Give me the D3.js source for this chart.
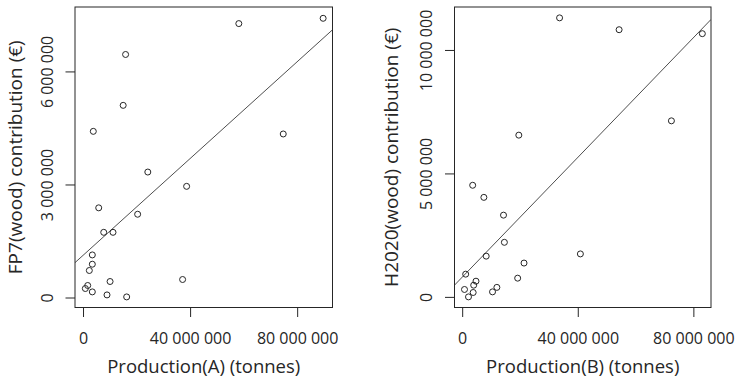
<!DOCTYPE html>
<html>
<head>
<meta charset="utf-8">
<script src="https://cdn.jsdelivr.net/npm/d3@7"></script>
<style>
  body { margin: 0; background: #fff; }
  svg { display: block; }
</style>
</head>
<body>
<script>
// Production (tonnes) vs EU wood contribution (EUR)
var prodA = [89.7e6, 58.2e6, 15.9e6, 15.0e6, 3.84e6, 74.8e6, 24.2e6, 38.7e6, 5.86e6, 20.4e6, 7.73e6,
             11.2e6, 3.47e6, 3.47e6, 2.35e6, 10.1e6, 37.2e6, 1.75e6, 0.86e6, 3.47e6, 8.96e6, 16.3e6];
var fp7 = [7.41e6, 7.27e6, 6.45e6, 5.10e6, 4.41e6, 4.34e6, 3.33e6, 2.95e6, 2.38e6, 2.21e6, 1.73e6,
           1.73e6, 1.13e6, 0.884e6, 0.717e6, 0.425e6, 0.478e6, 0.319e6, 0.239e6, 0.149e6, 0.069e6, 0.016e6];

var prodB = [33.7e6, 54.3e6, 83.1e6, 72.4e6, 19.6e6, 3.63e6, 7.5e6, 14.3e6, 14.6e6, 8.3e6, 40.9e6,
             21.4e6, 1.21e6, 19.2e6, 4.77e6, 3.98e6, 12.0e6, 0.8e6, 10.5e6, 3.8e6, 2.18e6];
var h2020 = [11.3e6, 10.82e6, 10.66e6, 7.13e6, 6.55e6, 4.52e6, 4.03e6, 3.31e6, 2.21e6, 1.65e6, 1.74e6,
             1.37e6, 0.92e6, 0.758e6, 0.636e6, 0.474e6, 0.385e6, 0.30e6, 0.203e6, 0.178e6, 0.0];

var xTicksA = [0, 40e6, 80e6];
var yTicksA = [0, 3e6, 6e6];
var xTicksB = [0, 40e6, 80e6];
var yTicksB = [0, 5e6, 10e6];

var xDomainA = [-3.0e6, 93.2e6];
var yDomainA = [-0.265e6, 7.71e6];
var xDomainB = [-2.66e6, 86.1e6];
var yDomainB = [-0.43e6, 11.74e6];

var width = 736;
var height = 379;
var plotTop = 7, plotBottom = 307.5;
var font = "'Open Sans', 'Noto Sans', sans-serif";
var ink = "#262626";

var fmt = d3.formatLocale({ decimal: ".", thousands: " ", grouping: [3], currency: ["", ""] }).format(",d");

var panels = [
  { xs: prodA, ys: fp7, xDomain: xDomainA, yDomain: yDomainA, xTicks: xTicksA, yTicks: yTicksA,
    left: 75, right: 332.5, titleOff: 53.5,
    xLabel: "Production(A) (tonnes)", yLabel: "FP7(wood) contribution (€)" },
  { xs: prodB, ys: h2020, xDomain: xDomainB, yDomain: yDomainB, xTicks: xTicksB, yTicks: yTicksB,
    left: 454.5, right: 711, titleOff: 57,
    xLabel: "Production(B) (tonnes)", yLabel: "H2020(wood) contribution (€)" }
];

var svg = d3.select("body")
  .append("svg")
  .attr("width", width)
  .attr("height", height);

panels.forEach(function(p) {
  var x = d3.scaleLinear().domain(p.xDomain).range([p.left, p.right]);
  var y = d3.scaleLinear().domain(p.yDomain).range([plotBottom, plotTop]);
  var g = svg.append("g");

  // least squares fit, like abline(lm(y ~ x))
  var mx = d3.mean(p.xs), my = d3.mean(p.ys);
  var sxy = d3.sum(p.xs, function(v, i) { return (v - mx) * (p.ys[i] - my); });
  var sxx = d3.sum(p.xs, function(v) { return (v - mx) * (v - mx); });
  var slope = sxy / sxx, icept = my - slope * mx;

  var clipId = "clip" + Math.round(p.left);
  g.append("clipPath").attr("id", clipId)
    .append("rect")
    .attr("x", p.left).attr("y", plotTop)
    .attr("width", p.right - p.left).attr("height", plotBottom - plotTop);

  g.append("line")
    .attr("clip-path", "url(#" + clipId + ")")
    .attr("x1", x(p.xDomain[0])).attr("y1", y(icept + slope * p.xDomain[0]))
    .attr("x2", x(p.xDomain[1])).attr("y2", y(icept + slope * p.xDomain[1]))
    .attr("stroke", "#3a3a3a")
    .attr("stroke-width", 0.9);

  g.selectAll("circle")
    .data(p.xs)
    .enter()
    .append("circle")
    .attr("cx", function(d) { return x(d); })
    .attr("cy", function(d, i) { return y(p.ys[i]); })
    .attr("r", 3)
    .attr("fill", "none")
    .attr("stroke", ink)
    .attr("stroke-width", 1);

  // box
  g.append("rect")
    .attr("x", p.left).attr("y", plotTop)
    .attr("width", p.right - p.left).attr("height", plotBottom - plotTop)
    .attr("fill", "none")
    .attr("stroke", ink)
    .attr("stroke-width", 1);

  var xAxis = g.append("g")
    .attr("transform", "translate(0," + plotBottom + ")")
    .call(d3.axisBottom(x).tickValues(p.xTicks).tickFormat(fmt).tickSize(9.5).tickSizeOuter(0));
  xAxis.select(".domain").remove();
  xAxis.selectAll("line").attr("stroke", ink);
  xAxis.selectAll("text")
    .attr("y", 36).attr("dy", null)
    .attr("fill", ink)
    .attr("font-family", font)
    .attr("font-size", "16px");

  var yAxis = g.append("g")
    .attr("transform", "translate(" + p.left + ",0)")
    .call(d3.axisLeft(y).tickValues(p.yTicks).tickFormat(fmt).tickSize(9.5).tickSizeOuter(0));
  yAxis.select(".domain").remove();
  yAxis.selectAll("line").attr("stroke", ink);
  yAxis.selectAll("text")
    .attr("x", 0).attr("dy", null)
    .attr("transform", "translate(-22.5,0) rotate(-90)")
    .attr("text-anchor", "middle")
    .attr("fill", ink)
    .attr("font-family", font)
    .attr("font-size", "16px");

  g.append("text")
    .text(p.xLabel)
    .attr("x", (p.left + p.right) / 2)
    .attr("y", 373)
    .attr("text-anchor", "middle")
    .attr("font-family", font)
    .attr("font-size", "18.5px")
    .attr("fill", ink);

  g.append("text")
    .text(p.yLabel)
    .attr("transform", "translate(" + (p.left - p.titleOff) + "," + ((plotTop + plotBottom) / 2) + ") rotate(-90)")
    .attr("text-anchor", "middle")
    .attr("font-family", font)
    .attr("font-size", "19px")
    .attr("fill", ink);
});
</script>
</body>
</html>
